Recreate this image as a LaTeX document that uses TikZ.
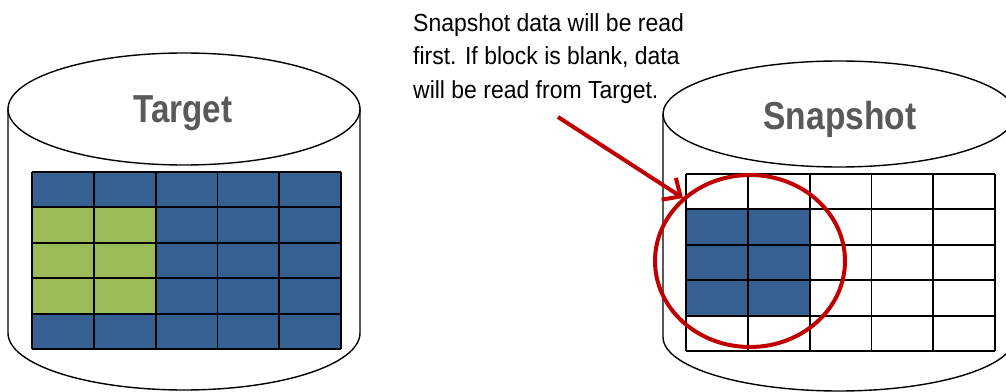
\documentclass[tikz,border=0pt]{standalone}
\usepackage{fontspec}
\setmainfont{Liberation Sans}
\usetikzlibrary{arrows.meta,shapes.geometric}
\definecolor{cellblue}{HTML}{366092}
\definecolor{cellgreen}{HTML}{9BBB59}
\definecolor{lblgray}{HTML}{595959}
\definecolor{callred}{HTML}{C00000}
\begin{document}
\begin{tikzpicture}[x=1pt,y=1pt,
  cyl/.style={draw=black,line width=1.4pt,fill=white},
  gridline/.style={draw=black,line width=1.8pt},
  dblabel/.style={text=lblgray,font=\fontsize{39}{39}\selectfont\bfseries,anchor=base,inner sep=0pt},
  calltext/.style={font=\fontsize{24.7}{24.7}\selectfont,anchor=base west,inner sep=0pt},
  redline/.style={draw=callred,line width=4pt}]
\useasboundingbox (0,0) rectangle (1006,391);
\clip (0,0) rectangle (1006,391);
% ---- Target cylinder
\path[cyl] (8,282) -- (8,58) arc[start angle=180,end angle=360,x radius=176,y radius=57] -- (360,282) -- cycle;
\draw[cyl] (184,282) ellipse[x radius=176,y radius=56];
\node[dblabel] (tlabel) at (183,268) {\scalebox{0.85}[1]{Target}};
% grid
\fill[cellblue] (32,42) rectangle (341,219);
\fill[cellgreen] (32,77.4) rectangle (155.6,183.6);
\foreach \i in {0,...,5} {
  \draw[gridline] ({32+61.8*\i},42) -- ({32+61.8*\i},219);
  \draw[gridline] (32,{42+35.4*\i}) -- (341,{42+35.4*\i});
}
% ---- Snapshot cylinder
\path[cyl] (663,277) -- (663,54) arc[start angle=180,end angle=360,x radius=176,y radius=54] -- (1015,277) -- cycle;
\draw[cyl] (839,277) ellipse[x radius=176,y radius=53];
\node[dblabel] (slabel) at (840,261) {\scalebox{0.86}[1]{Snapshot}};
\fill[cellblue] (686,75.4) rectangle (809.6,181.6);
\foreach \i in {0,...,5} {
  \draw[gridline] ({686+61.8*\i},40) -- ({686+61.8*\i},217);
  \draw[gridline] (686,{40+35.4*\i}) -- (995,{40+35.4*\i});
}
% ---- callout
\node[calltext] (t1) at (413,359) {\scalebox{0.93}[1]{Snapshot data will be read}};
\node[calltext] (t2) at (413,326) {\scalebox{0.93}[1]{first. If block is blank, data}};
\node[calltext] (t3) at (413,292) {\scalebox{0.93}[1]{will be read from Target.}};
\node[ellipse,draw=callred,line width=4pt,minimum width=190pt,minimum height=172pt,inner sep=0pt] (circ) at (750,130) {};
\coordinate (as) at (558,274);
\coordinate (ae) at (683,193);
\draw[redline,-{Straight Barb[length=14pt,width=26pt]}] (as) -- (ae);
\end{tikzpicture}
\end{document}
